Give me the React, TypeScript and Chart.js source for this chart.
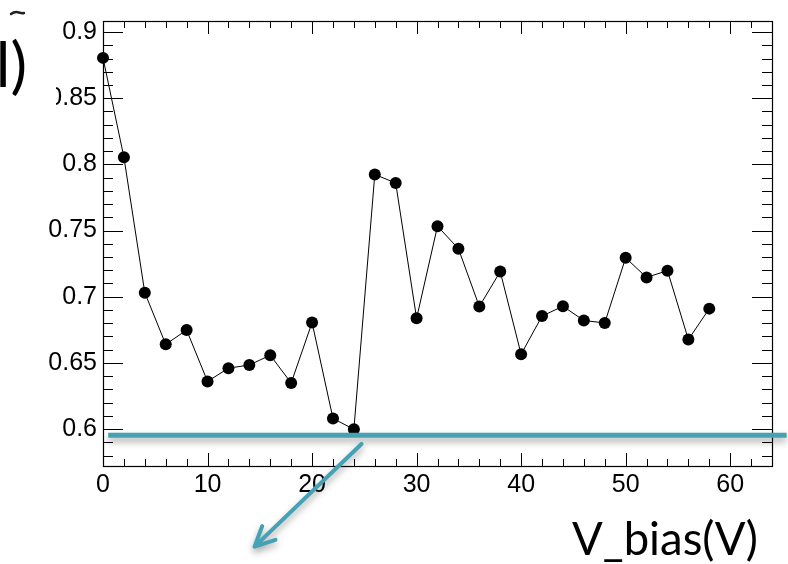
import React, { useEffect, useRef } from 'react';
import { Chart, registerables } from 'chart.js';
Chart.register(...registerables);

const biasVoltages = [0, 2, 4, 6, 8, 10, 12, 14, 16, 18, 20, 22, 24, 26, 28, 30, 32, 34, 36, 38, 40, 42, 44, 46, 48, 50, 52, 54, 56, 58];
const values = [0.8805, 0.8054, 0.703, 0.664, 0.6748, 0.636, 0.646, 0.6484, 0.6558, 0.6348, 0.6805, 0.608, 0.5998, 0.7924, 0.7859, 0.6837, 0.7533, 0.7363, 0.6926, 0.719, 0.6565, 0.6854, 0.6928, 0.682, 0.6802, 0.7294, 0.7146, 0.7197, 0.6676, 0.691];
const xTickValues = [0, 10, 20, 30, 40, 50, 60];
const xTickLabels = ['0', '10', '20', '30', '40', '50', '60'];
const yTickValues = [0.6, 0.65, 0.7, 0.75, 0.8, 0.85, 0.9];
const yTickLabels = ['0.6', '0.65', '0.7', '0.75', '0.8', '0.85', '0.9'];
const xRange = [0, 64];
const yRange = [0.57207, 0.90837];
const xMinorStep = 2;
const yMinorStep = 0.01;
const referenceLevel = 0.5953;
const axisTitle = 'V_bias(V)';
const cornerText = 'l)';

const TEAL = '#45a2b4';
const TICK_FONT = "'Liberation Sans', Arial, sans-serif";

const overlayPlugin = {
  id: 'rootStyle',
  beforeDatasetsDraw(chart: any) {
    const { ctx, chartArea: a, scales } = chart;
    const xs = scales.x, ys = scales.y;
    ctx.save();
    ctx.strokeStyle = '#000';
    ctx.lineWidth = 1;
    ctx.beginPath();
    for (let v = xRange[0]; v <= xRange[1] + 1e-9; v += xMinorStep) {
      const px = Math.round(xs.getPixelForValue(v)) + 0.5;
      const major = Math.abs(v / 10 - Math.round(v / 10)) < 1e-6;
      const len = major ? 13 : 7;
      ctx.moveTo(px, a.bottom); ctx.lineTo(px, a.bottom - len);
      ctx.moveTo(px, a.top); ctx.lineTo(px, a.top + len);
    }
    for (let i = 0; ; i++) {
      const v = 0.58 + i * yMinorStep;
      if (v > yRange[1]) break;
      const py = Math.round(ys.getPixelForValue(v)) + 0.5;
      const major = Math.abs(v / 0.05 - Math.round(v / 0.05)) < 1e-6;
      const len = major ? 20 : 10;
      ctx.moveTo(a.left, py); ctx.lineTo(a.left + len, py);
      ctx.moveTo(a.right, py); ctx.lineTo(a.right - len, py);
    }
    ctx.stroke();
    ctx.lineWidth = 1.2;
    ctx.strokeRect(Math.round(a.left) + 0.5, Math.round(a.top) + 0.5, Math.round(a.right - a.left), Math.round(a.bottom - a.top));
    ctx.restore();
  },
  afterDraw(chart: any) {
    const { ctx, scales } = chart;
    const xs = scales.x, ys = scales.y;
    ctx.save();
    const ly = ys.getPixelForValue(referenceLevel);
    ctx.shadowColor = 'rgba(0,0,0,0.35)';
    ctx.shadowBlur = 7;
    ctx.shadowOffsetY = 4;
    ctx.strokeStyle = TEAL;
    ctx.lineWidth = 5;
    ctx.beginPath();
    ctx.moveTo(xs.getPixelForValue(0.5), ly);
    ctx.lineTo(xs.getPixelForValue(65.4), ly);
    ctx.stroke();
    const tx = xs.getPixelForValue(24.73), ty = ys.getPixelForValue(0.5887);
    const hx = xs.getPixelForValue(14.5), hy = ys.getPixelForValue(0.5111);
    ctx.lineWidth = 4;
    ctx.lineCap = 'round';
    ctx.lineJoin = 'round';
    ctx.beginPath();
    ctx.moveTo(tx, ty);
    ctx.lineTo(hx, hy);
    const ang = Math.atan2(hy - ty, hx - tx);
    const hl = 22;
    ctx.moveTo(hx - hl * Math.cos(ang - 0.45), hy - hl * Math.sin(ang - 0.45));
    ctx.lineTo(hx, hy);
    ctx.lineTo(hx - hl * Math.cos(ang + 0.45), hy - hl * Math.sin(ang + 0.45));
    ctx.stroke();
    ctx.shadowColor = 'transparent';
    ctx.shadowBlur = 0;
    ctx.shadowOffsetY = 0;
    ctx.fillStyle = '#000';
    let size = 46;
    ctx.font = `${size}px Lato`;
    const w = ctx.measureText(axisTitle).width;
    size = size * 186 / w;
    ctx.font = `${size}px Lato`;
    ctx.textBaseline = 'alphabetic';
    ctx.textAlign = 'left';
    ctx.fillText(axisTitle, 572, 555);
    ctx.fillStyle = '#fff';
    ctx.fillRect(0, 36, 56, 70);
    ctx.fillStyle = '#000';
    ctx.font = '62px Lato';
    ctx.textAlign = 'right';
    ctx.fillText(cornerText, 27, 87);
    ctx.strokeStyle = '#222';
    ctx.lineWidth = 2.5;
    ctx.lineCap = 'round';
    ctx.beginPath();
    ctx.moveTo(11, 14);
    ctx.quadraticCurveTo(15, 11, 19, 12.5);
    ctx.quadraticCurveTo(22, 13.5, 24, 13);
    ctx.stroke();
    ctx.restore();
  },
};

export default function App() {
  const ref = useRef<HTMLCanvasElement | null>(null);
  useEffect(() => {
    document.body.style.margin = '0';
    const canvas = ref.current!;
    const points = biasVoltages.map((x, i) => ({ x, y: values[i] }));
    const chart = new Chart(canvas, {
      type: 'line',
      data: {
        datasets: [
          {
            data: points,
            borderColor: '#000',
            borderWidth: 1,
            pointRadius: 6,
            pointHoverRadius: 6,
            pointBackgroundColor: '#000',
            pointBorderColor: '#000',
            pointBorderWidth: 0,
            tension: 0,
            clip: false as any,
          },
        ],
      },
      options: {
        animation: false,
        responsive: false,
        maintainAspectRatio: false,
        events: [],
        layout: { padding: { left: 0, top: 12, right: 16, bottom: 0 } },
        plugins: { legend: { display: false }, tooltip: { enabled: false } },
        scales: {
          x: {
            type: 'linear',
            min: xRange[0],
            max: xRange[1],
            grid: { display: false, drawTicks: false },
            border: { display: false },
            afterBuildTicks: (s: any) => { s.ticks = xTickValues.map((v) => ({ value: v })); },
            afterFit: (s: any) => { s.height = 98; },
            ticks: {
              autoSkip: false,
              maxRotation: 0,
              padding: 4,
              color: '#000',
              font: { family: TICK_FONT, size: 25 },
              callback: (v: any) => { const i = xTickValues.indexOf(Number(v)); return i >= 0 ? xTickLabels[i] : ''; },
            },
          },
          y: {
            type: 'linear',
            min: yRange[0],
            max: yRange[1],
            grid: { display: false, drawTicks: false },
            border: { display: false },
            afterBuildTicks: (s: any) => { s.ticks = yTickValues.map((v) => ({ value: v })); },
            afterFit: (s: any) => { s.width = 103; },
            ticks: {
              autoSkip: false,
              padding: 6,
              color: '#000',
              font: { family: TICK_FONT, size: 25 },
              callback: (v: any) => {
                const i = yTickValues.findIndex((t) => Math.abs(t - Number(v)) < 1e-9);
                return i >= 0 ? yTickLabels[i] : '';
              },
            },
          },
        },
      },
      plugins: [overlayPlugin],
    });
    return () => chart.destroy();
  }, []);
  return (
    <div style={{ width: 788, height: 564, background: '#fff' }}>
      <canvas ref={ref} width={788} height={564} style={{ display: 'block', width: 788, height: 564 }} />
    </div>
  );
}
